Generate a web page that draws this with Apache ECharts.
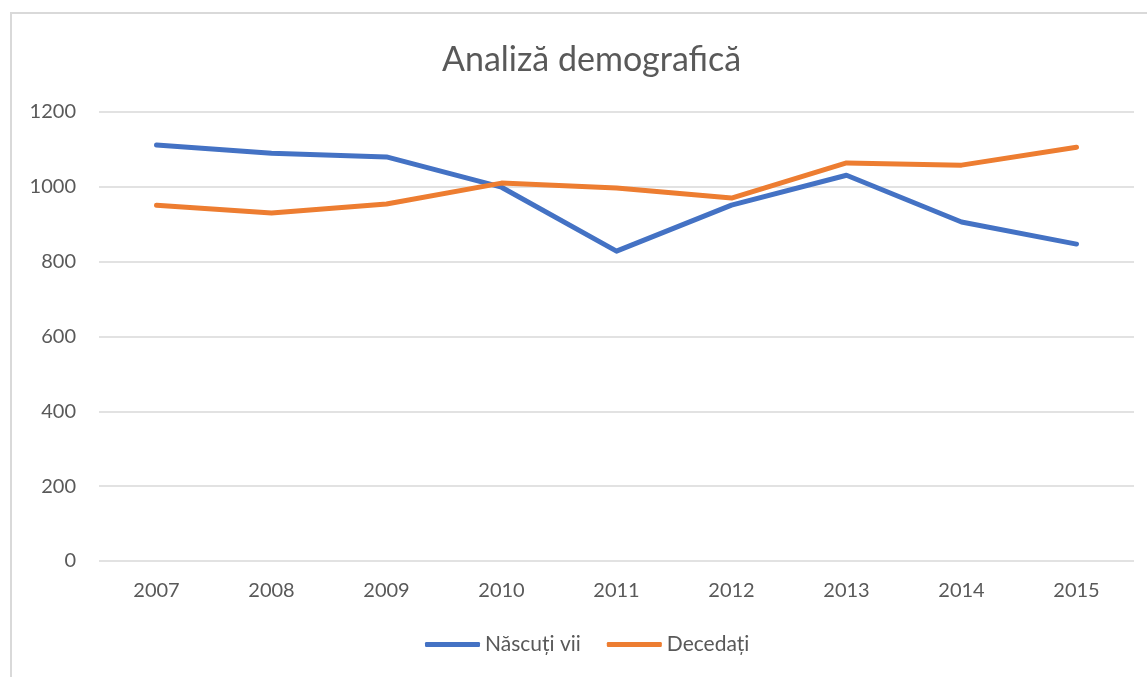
<!DOCTYPE html>
<html>
<head>
    <meta charset="UTF-8" />
    <title>Analiză demografică</title>
    <script src="https://cdn.jsdelivr.net/npm/echarts@6/dist/echarts.min.js"></script>
    <style>
        body { margin: 0; background: #fff; }
        #frame { position: absolute; left: 10px; top: 12px; width: 1137px; height: 665px;
                 border-left: 2px solid #d9d9d9; border-top: 2px solid #d9d9d9; box-sizing: border-box; }
        #chart { position: absolute; left: 0; top: 0; width: 1147px; height: 677px; }
    </style>
</head>
<body>
    <div id="frame"></div>
    <div id="chart"></div>
    <script type="text/javascript">
        // date
        const years = ['2007', '2008', '2009', '2010', '2011', '2012', '2013', '2014', '2015'];
        const nascutiVii = [1112, 1090, 1080, 999, 828, 951, 1031, 906, 847];
        const decedati = [951, 930, 954, 1010, 997, 970, 1064, 1058, 1106];

        const textColor = '#595959';
        const font = 'Lato, "Open Sans", sans-serif';

        let chart = echarts.init(document.getElementById('chart'));
        chart.setOption({
            animation: false,
            title: {
                text: 'Analiză demografică',
                left: 437,
                top: 38,
                textStyle: { color: textColor, fontSize: 34, fontWeight: 'normal', fontFamily: font }
            },
            legend: {
                bottom: 17,
                left: 420,
                itemWidth: 55,
                itemHeight: 5,
                itemGap: 26,
                icon: 'roundRect',
                textStyle: { color: textColor, fontSize: 21, fontFamily: font },
                data: ['Născuți vii', 'Decedați']
            },
            grid: { left: 99, right: 13, top: 112, bottom: 116 },
            xAxis: {
                type: 'category',
                data: years,
                boundaryGap: true,
                axisLine: { show: false },
                axisTick: { show: false },
                axisLabel: { color: textColor, fontSize: 20, fontFamily: font, margin: 20 }
            },
            yAxis: {
                type: 'value',
                min: 0,
                max: 1200,
                interval: 200,
                axisLine: { show: false },
                axisTick: { show: false },
                axisLabel: {
                    color: textColor, fontSize: 20, fontFamily: font, margin: 23,
                    formatter: function (value) {
                        return String(value);
                    }
                },
                splitLine: { lineStyle: { color: '#d9d9d9', width: 1.5 } }
            },
            series: [
                {
                    name: 'Născuți vii',
                    type: 'line',
                    data: nascutiVii,
                    symbol: 'none',
                    itemStyle: { color: '#4472C4' },
                    lineStyle: { width: 5, cap: 'round', join: 'round' }
                },
                {
                    name: 'Decedați',
                    type: 'line',
                    data: decedati,
                    symbol: 'none',
                    itemStyle: { color: '#ED7D31' },
                    lineStyle: { width: 5, cap: 'round', join: 'round' }
                }
            ]
        });
    </script>
</body>
</html>
